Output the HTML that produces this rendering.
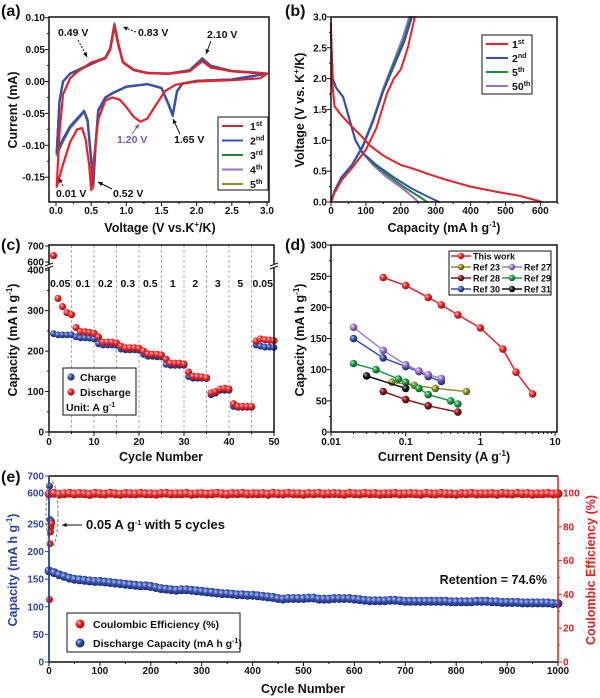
<!DOCTYPE html>
<html><head><meta charset="utf-8">
<style>
html,body{margin:0;padding:0;background:#fff;}
svg{display:block;font-family:"Liberation Sans",Arial,sans-serif;}
.tk{font-size:10px;font-weight:bold;fill:#111;}
.lab{font-size:12.5px;font-weight:bold;fill:#111;}
.pl{font-size:16px;font-weight:bold;fill:#111;}
.an{font-size:10.5px;font-weight:bold;fill:#111;}
</style></head>
<body>
<svg id="fig" width="600" height="698" viewBox="0 0 600 698">
<defs>
<radialGradient id="gRed" cx="35%" cy="35%" r="65%"><stop offset="0" stop-color="#ffc0c0"/><stop offset="0.45" stop-color="#ee2b2b"/><stop offset="1" stop-color="#a50d0d"/></radialGradient>
<radialGradient id="gBlue" cx="35%" cy="35%" r="65%"><stop offset="0" stop-color="#b8c4f0"/><stop offset="0.45" stop-color="#3550b0"/><stop offset="1" stop-color="#1a2a70"/></radialGradient>
<radialGradient id="gGreen" cx="35%" cy="35%" r="65%"><stop offset="0" stop-color="#b0f0c0"/><stop offset="0.45" stop-color="#1f9a45"/><stop offset="1" stop-color="#0c5a25"/></radialGradient>
<radialGradient id="gPurple" cx="35%" cy="35%" r="65%"><stop offset="0" stop-color="#eadcff"/><stop offset="0.45" stop-color="#a27ccc"/><stop offset="1" stop-color="#5f3d85"/></radialGradient>
<radialGradient id="gOlive" cx="35%" cy="35%" r="65%"><stop offset="0" stop-color="#efefb0"/><stop offset="0.45" stop-color="#8f8f30"/><stop offset="1" stop-color="#55551a"/></radialGradient>
<radialGradient id="gDred" cx="35%" cy="35%" r="65%"><stop offset="0" stop-color="#e09090"/><stop offset="0.45" stop-color="#8e1a1a"/><stop offset="1" stop-color="#4a0808"/></radialGradient>
<radialGradient id="gBlack" cx="35%" cy="35%" r="65%"><stop offset="0" stop-color="#aaaaaa"/><stop offset="0.45" stop-color="#222"/><stop offset="1" stop-color="#000"/></radialGradient>
</defs>

<text class="pl" x="1" y="16">(a)</text>
<text class="pl" x="285" y="16">(b)</text>
<text class="pl" x="1" y="250">(c)</text>
<text class="pl" x="285" y="250">(d)</text>
<text class="pl" x="1" y="482">(e)</text>

<text class="lab" x="160" y="232" text-anchor="middle">Voltage (V vs.K<tspan dy="-5" font-size="8">+</tspan><tspan dy="5">/K)</tspan></text>
<text class="lab" transform="translate(17,110) rotate(-90)" text-anchor="middle">Current (mA)</text>
<text class="lab" x="444" y="232" text-anchor="middle">Capacity (mA h g<tspan dy="-5" font-size="8">-1</tspan><tspan dy="5">)</tspan></text>
<text class="lab" transform="translate(304,110) rotate(-90)" text-anchor="middle">Voltage (V vs. K<tspan dy="-5" font-size="8">+</tspan><tspan dy="5">/K)</tspan></text>
<text class="lab" x="161" y="461" text-anchor="middle">Cycle Number</text>
<text class="lab" transform="translate(17,340) rotate(-90)" text-anchor="middle">Capacity (mA h g<tspan dy="-5" font-size="8">-1</tspan><tspan dy="5">)</tspan></text>
<text class="lab" x="444" y="461" text-anchor="middle">Current Density (A g<tspan dy="-5" font-size="8">-1</tspan><tspan dy="5">)</tspan></text>
<text class="lab" transform="translate(304,340) rotate(-90)" text-anchor="middle">Capacity (mA h g<tspan dy="-5" font-size="8">-1</tspan><tspan dy="5">)</tspan></text>
<text class="lab" x="303" y="693" text-anchor="middle">Cycle Number</text>
<text class="lab" transform="translate(17,570) rotate(-90)" text-anchor="middle" style="fill:#2e44a0">Capacity (mA h g<tspan dy="-5" font-size="8">-1</tspan><tspan dy="5">)</tspan></text>
<text class="lab" transform="translate(595,570) rotate(-90)" text-anchor="middle" style="fill:#e02020">Coulombic Efficiency (%)</text>

<g id="layer"></g>
</svg>
<script>
// ---------- DATA ----------
const cv1Anodic=[[0.01,-0.165],[0.05,-0.08],[0.1,-0.02],[0.2,0.005],[0.3,0.015],[0.4,0.022],[0.5,0.03],[0.6,0.033],[0.7,0.036],[0.77,0.05],[0.83,0.088],[0.88,0.06],[0.95,0.03],[1.1,0.018],[1.3,0.013],[1.6,0.012],[1.9,0.016],[2.0,0.025],[2.08,0.032],[2.2,0.022],[2.5,0.016],[2.9,0.013],[3.0,0.012]];
const cv1Cathodic=[[3.0,0.012],[2.9,0.005],[2.5,0.002],[2.0,0.0],[1.7,-0.005],[1.55,-0.015],[1.4,-0.04],[1.3,-0.058],[1.2,-0.063],[1.1,-0.055],[1.0,-0.04],[0.9,-0.028],[0.8,-0.025],[0.7,-0.03],[0.6,-0.06],[0.54,-0.12],[0.5,-0.17],[0.47,-0.13],[0.42,-0.09],[0.37,-0.073],[0.3,-0.075],[0.2,-0.095],[0.1,-0.13],[0.01,-0.165]];
const cv2Anodic=[[0.01,-0.11],[0.05,-0.03],[0.1,0.0],[0.2,0.012],[0.3,0.017],[0.4,0.022],[0.5,0.027],[0.6,0.032],[0.7,0.036],[0.77,0.05],[0.83,0.087],[0.88,0.06],[0.95,0.03],[1.1,0.018],[1.3,0.013],[1.6,0.012],[1.9,0.017],[2.0,0.027],[2.08,0.035],[2.2,0.024],[2.5,0.016],[2.9,0.013],[3.0,0.012]];
const cv2Cathodic=[[3.0,0.012],[2.5,0.003],[2.0,0.001],[1.8,-0.003],[1.72,-0.015],[1.66,-0.052],[1.6,-0.035],[1.5,-0.01],[1.3,-0.004],[1.0,-0.008],[0.8,-0.018],[0.7,-0.025],[0.6,-0.045],[0.56,-0.1],[0.53,-0.16],[0.5,-0.12],[0.45,-0.06],[0.4,-0.046],[0.3,-0.058],[0.2,-0.07],[0.1,-0.09],[0.01,-0.11]];
const cvPeakScale=[1.0,1.02,1.04,1.05];
const cvColors=['#e8202a','#3550b0','#1f8a3b','#a070c8','#8f8f30'];
const cvNames=['1st','2nd','3rd','4th','5th'];
const gcdDis1=[[0,2.9],[3,2.0],[10,1.55],[30,1.4],[60,1.22],[90,1.05],[110,0.92],[150,0.75],[200,0.6],[230,0.55],[280,0.45],[330,0.36],[400,0.25],[470,0.17],[540,0.1],[605,0]];
const gcdCha1=[[0,0],[10,0.15],[30,0.35],[60,0.55],[100,0.85],[130,1.2],[160,1.75],[180,2.0],[200,2.15],[220,2.5],[240,3.0]];
const gcdDis2=[[0,2.75],[5,2.0],[15,1.85],[35,1.7],[50,1.4],[70,1.0],[90,0.8],[130,0.6],[180,0.4],[230,0.22],[280,0.08],[310,0]];
const gcdCha2=[[0,0],[10,0.18],[30,0.4],[60,0.6],[90,0.88],[120,1.3],[150,1.8],[180,2.2],[210,2.6],[232,3.0]];
const gcdDis5=[[0,2.7],[5,2.0],[15,1.85],[35,1.7],[50,1.4],[70,1.0],[90,0.8],[125,0.6],[170,0.4],[215,0.22],[255,0.08],[275,0]];
const gcdCha5=[[0,0],[10,0.18],[30,0.4],[60,0.6],[90,0.9],[120,1.32],[150,1.82],[180,2.25],[210,2.65],[228,3.0]];
const gcdDis50=[[0,2.7],[5,2.0],[15,1.85],[35,1.7],[50,1.4],[70,1.0],[90,0.8],[120,0.6],[160,0.4],[205,0.22],[235,0.08],[250,0]];
const gcdCha50=[[0,0],[10,0.18],[30,0.4],[60,0.6],[90,0.9],[120,1.33],[150,1.85],[180,2.28],[205,2.65],[224,3.0]];
const rateCycles=[1,2,3,4,5,6,7,8,9,10,11,12,13,14,15,16,17,18,19,20,21,22,23,24,25,26,27,28,29,30,31,32,33,34,35,36,37,38,39,40,41,42,43,44,45,46,47,48,49,50];
const rateDischarge=[640,330,310,295,290,258,248,248,246,244,235,222,222,222,220,212,208,208,208,207,200,193,192,192,190,180,170,170,170,168,148,138,137,136,134,97,100,106,108,106,70,63,63,63,63,225,230,228,227,226];
const rateCharge=[243,240,240,240,240,235,233,233,232,230,218,215,215,215,214,205,203,203,203,202,192,187,187,186,186,167,165,165,165,165,137,133,133,133,132,92,96,103,103,103,63,61,61,61,61,215,212,210,210,209];
const rateLabels=['0.05','0.1','0.2','0.3','0.5','1','2','3','5','0.05'];
const cmpThisX=[0.05,0.1,0.2,0.3,0.5,1,2,3,5], cmpThisY=[248,235,216,204,188,167,133,96,61];
const cmpRef27X=[0.02,0.05,0.1,0.15,0.2,0.3], cmpRef27Y=[168,131,108,98,92,86];
const cmpRef30X=[0.02,0.05,0.1,0.15,0.2,0.3], cmpRef30Y=[150,119,105,97,89,81];
const cmpRef29X=[0.02,0.04,0.08,0.1,0.15,0.2,0.4,0.5], cmpRef29Y=[110,100,85,80,70,60,50,45];
const cmpRef31X=[0.03,0.1], cmpRef31Y=[90,70];
const cmpRef23X=[0.065,0.13,0.25,0.65], cmpRef23Y=[80,75,70,65];
const cmpRef28X=[0.05,0.1,0.2,0.5], cmpRef28Y=[65,52,42,32];
const initCycles=[1,2,3,4,5];
const initCapacity=[640,300,292,285,280];
const initCE=[37,70,77,80,82];
const longCycles=[0,10,20,30,40,50,60,70,80,90,100,110,120,130,140,150,160,170,180,190,200,210,220,230,240,250,260,270,280,290,300,310,320,330,340,350,360,370,380,390,400,410,420,430,440,450,460,470,480,490,500,510,520,530,540,550,560,570,580,590,600,610,620,630,640,650,660,670,680,690,700,710,720,730,740,750,760,770,780,790,800,810,820,830,840,850,860,870,880,890,900,910,920,930,940,950,960,970,980,990,1000];
const longCapacity=[165,162,158,155,152,150,149,148,147,146,146,145,144,143,142,141,140,139,138,138,137,135,133,132,131,130,131,131,130,129,128,127,126,125,124,124,123,122,122,121,121,120,119,118,117,115,114,115,115,115,115,116,116,114,114,114,115,115,115,115,114,113,112,111,111,111,111,112,112,111,110,110,110,110,110,110,110,110,110,109,109,109,109,109,110,110,110,109,109,108,108,108,108,107,107,107,107,107,107,106,106];
const longCE=[99.5,99.8,99.3,99.6,99.9,99.4,99.7,99.5,99.2,99.8,99.6,99.4,99.9,99.5,99.3,99.7,99.6,99.4,99.8,99.5,99.6,99.3,99.7,99.9,99.4,99.6,99.5,99.8,99.3,99.6,99.7,99.4,99.5,99.9,99.6,99.3,99.7,99.5,99.8,99.4,99.6,99.5,99.7,99.3,99.8,99.6,99.4,99.9,99.5,99.6,99.3,99.7,99.5,99.8,99.4,99.6,99.7,99.5,99.3,99.8,99.6,99.4,99.9,99.5,99.7,99.3,99.6,99.5,99.8,99.4,99.6,99.7,99.5,99.3,99.9,99.6,99.4,99.8,99.5,99.6,99.3,99.7,99.5,99.8,99.4,99.6,99.5,99.7,99.3,99.8,99.6,99.4,99.9,99.5,99.7,99.3,99.6,99.5,99.8,99.4,99.6];

// ---------- HELPERS ----------
const NS='http://www.w3.org/2000/svg';
const layer=document.getElementById('layer');
function mk(parent,tag,attrs,text){const e=document.createElementNS(NS,tag);for(const k in attrs)e.setAttribute(k,attrs[k]);if(text!==undefined)e.textContent=text;parent.appendChild(e);return e;}
function line(p,x1,y1,x2,y2,name,col,w){const e=mk(p,'line',{x1:x1,y1:y1,x2:x2,y2:y2,stroke:col||'#111','stroke-width':w||1});


return e;}
function txt(p,x,y,s,name,anchor,cls,col){const e=mk(p,'text',{x:x,y:y,'text-anchor':anchor||'middle','class':cls||'tk'},s);if(col)e.setAttribute('style','fill:'+col);


return e;}
function poly(p,pts,col,w,name){const e=mk(p,'polyline',{points:pts.map(q=>q[0].toFixed(1)+','+q[1].toFixed(1)).join(' '),fill:'none',stroke:col,'stroke-width':w,'stroke-linejoin':'round','stroke-linecap':'round'});


return e;}
function ball(p,x,y,r,grad,name){const e=mk(p,'circle',{cx:x.toFixed(1),cy:y.toFixed(1),r:r,fill:'url(#'+grad+')'});


return e;}
function frame(p,x1,y1,x2,y2,name){const e=mk(p,'rect',{x:x1,y:y1,width:x2-x1,height:y2-y1,fill:'none',stroke:'#111','stroke-width':1.5});


return e;}
function legbox(p,x1,y1,x2,y2,name){const e=mk(p,'rect',{x:x1,y:y1,width:x2-x1,height:y2-y1,fill:'#fff',stroke:'#111','stroke-width':1});


return e;}
function sup(p,x,y,base,s,name,size){const e=mk(p,'text',{x:x,y:y,'class':'an','text-anchor':'start'});if(size)e.style.fontSize=size+'px';


mk(e,'tspan',{},base);mk(e,'tspan',{dy:-4,'font-size':7},s);return e;}
function arrow(p,x1,y1,x2,y2,name,col,dash){const g=mk(p,'g',{});


mk(g,'line',{x1:x1,y1:y1,x2:x2,y2:y2,stroke:col||'#111','stroke-width':1,'stroke-dasharray':dash?'2,1.5':'none'});
const a=Math.atan2(y2-y1,x2-x1),L=5;const p1=[x2-L*Math.cos(a-0.45),y2-L*Math.sin(a-0.45)],p2=[x2-L*Math.cos(a+0.45),y2-L*Math.sin(a+0.45)];
mk(g,'polygon',{points:x2+','+y2+' '+p1.join(',')+' '+p2.join(','),fill:col||'#111'});return g;}

// ---------- PANEL A ----------
const ga=mk(layer,'g',{});


const xa=v=>56+v*70.33, ya=i=>81.5-i*638;
for(let v=0;v<=3.001;v+=0.25){const X=xa(v),maj=Math.abs(v*2-Math.round(v*2))<1e-6;line(ga,X,202,X,202+(maj?4:2),'a-x-tick');if(maj)txt(ga,X,214,v.toFixed(1),'a-x-tick-label');}
for(let k=-6;k<=4;k++){const i=k*0.025,Y=ya(i),maj=k%2===0;line(ga,49,Y,49-(maj?4:2),Y,'a-y-tick');if(maj)txt(ga,45,Y+3.5,i.toFixed(2),'a-y-tick-label','end');}
for(let c=4;c>=0;c--){const s=c===0?1:cvPeakScale[c-1];const an=c===0?cv1Anodic:cv2Anodic,ca=c===0?cv1Cathodic:cv2Cathodic;
poly(ga,an.concat(ca).map(q=>[xa(q[0]),ya(q[1]*s)]),cvColors[c],2.2,'cv-curve-'+cvNames[c]);}
frame(ga,49,17,269,202,'a-plot-frame');
legbox(ga,218,117,268,190,'a-legend');
for(let c=0;c<5;c++){const Y=126+c*14.5;line(ga,222,Y,243,Y,'a-legend-swatch-'+cvNames[c],cvColors[c],2);sup(ga,250,Y+4,cvNames[c].slice(0,1),cvNames[c].slice(1),'a-legend-label-'+cvNames[c]);}
txt(ga,58,36,'0.49 V','a-annot-0.49v','start','an');arrow(ga,78,40,87,57,'a-arrow-0.49v','#111',true);
txt(ga,138,36,'0.83 V','a-annot-0.83v','start','an');arrow(ga,136,32,123,27,'a-arrow-0.83v','#111',true);
txt(ga,207,38,'2.10 V','a-annot-2.10v','start','an');arrow(ga,211,41,206,54,'a-arrow-2.10v','#111',false);
txt(ga,117,143,'1.20 V','a-annot-1.20v','start','an','#7a5ab0');arrow(ga,132,134,139,124,'a-arrow-1.20v','#7a5ab0',false);
txt(ga,174,143,'1.65 V','a-annot-1.65v','start','an');arrow(ga,180,134,173,119,'a-arrow-1.65v','#111',false);
txt(ga,56,197,'0.01 V','a-annot-0.01v','start','an');arrow(ga,63,186,59,178,'a-arrow-0.01v','#111',true);
txt(ga,113,197,'0.52 V','a-annot-0.52v','start','an');arrow(ga,112,189,98,182,'a-arrow-0.52v','#111',false);

// ---------- PANEL B ----------
const gb=mk(layer,'g',{});


const xb=v=>331+v*0.349, yb=v=>202-v*61.7;
for(let v=0;v<=650;v+=50){const X=xb(v),maj=v%100===0;line(gb,X,202,X,202+(maj?4:2),'b-x-tick');if(maj)txt(gb,X,214,String(v),'b-x-tick-label');}
for(let v=0;v<=3.001;v+=0.25){const Y=yb(v),maj=Math.abs(v*2-Math.round(v*2))<1e-6;line(gb,331,Y,331-(maj?4:2),Y,'b-y-tick');if(maj)txt(gb,327,Y+3.5,v.toFixed(1),'b-y-tick-label','end');}
const gcdSets=[[gcdDis50,gcdCha50,'#a070c8','50th'],[gcdDis5,gcdCha5,'#1f8a3b','5th'],[gcdDis2,gcdCha2,'#3550b0','2nd'],[gcdDis1,gcdCha1,'#e8202a','1st']];
gcdSets.forEach(s=>{poly(gb,s[0].map(q=>[xb(q[0]),yb(q[1])]),s[2],2,'gcd-discharge-'+s[3]);poly(gb,s[1].map(q=>[xb(q[0]),yb(q[1])]),s[2],2,'gcd-charge-'+s[3]);});
frame(gb,331,17,557,202,'b-plot-frame');
legbox(gb,482,35,532,94,'b-legend');
[['#e8202a','1','st'],['#3550b0','2','nd'],['#1f8a3b','5','th'],['#a070c8','50','th']].forEach((s,k)=>{const Y=44+k*14;line(gb,486,Y,508,Y,'b-legend-swatch-'+s[1]+s[2],s[0],2);sup(gb,512,Y+4,s[1],s[2],'b-legend-label-'+s[1]+s[2]);});

// ---------- PANEL C ----------
const gc=mk(layer,'g',{});


const xc=v=>49+v*4.5, yc=v=>v<=400?432-v*0.4045:(v<600?270:262-(v-600)*0.16);
for(let v=5;v<50;v+=5){const e=line(gc,xc(v),245,xc(v),432,'c-rate-divider','#999',0.8);e.setAttribute('stroke-dasharray','3,2');}
for(let v=0;v<=50;v+=5){const X=xc(v),maj=v%10===0;line(gc,X,432,X,432+(maj?4:2),'c-x-tick');if(maj)txt(gc,X,445,String(v),'c-x-tick-label');}
[0,100,200,300,400].forEach(v=>{line(gc,49,yc(v),45,yc(v),'c-y-tick');txt(gc,44,yc(v)+3.5,String(v),'c-y-tick-label','end');});
[50,150,250,350].forEach(v=>line(gc,49,yc(v),47,yc(v),'c-y-minor-tick'));
[600,700].forEach(v=>{line(gc,49,yc(v),45,yc(v),'c-y-tick');txt(gc,44,yc(v)+3.5,String(v),'c-y-tick-label','end');});
rateLabels.forEach((s,k)=>txt(gc,xc(k*5+2.5),287,s,'c-rate-label-'+k,'middle','an'));
rateCycles.forEach((c,k)=>ball(gc,xc(c),yc(rateCharge[k]),3.4,'gBlue','c-charge-point'));
rateCycles.forEach((c,k)=>ball(gc,xc(c),yc(rateDischarge[k]),3.6,'gRed','c-discharge-point'));
frame(gc,49,245,274,432,'c-plot-frame');
[[49,'c-axis-break-left'],[274,'c-axis-break-right']].forEach(b=>{const r=mk(gc,'rect',{x:b[0]-4,y:264,width:8,height:4,fill:'#fff'});


line(gc,b[0]-4,266,b[0]+4,263,b[1]+'-mark');line(gc,b[0]-4,269,b[0]+4,266,b[1]+'-mark');});
legbox(gc,63,368,136,415,'c-legend');
ball(gc,71,377,3.6,'gBlue','c-legend-charge-marker');txt(gc,80,381,'Charge','c-legend-charge-label','start','an');
ball(gc,71,392,3.6,'gRed','c-legend-discharge-marker');txt(gc,80,396,'Discharge','c-legend-discharge-label','start','an');
sup(gc,66,411,'Unit:  A g','-1','c-legend-unit');

// ---------- PANEL D ----------
const gd=mk(layer,'g',{});


const xd=v=>331+(Math.log10(v)+2)*74.7, yd=v=>432-v*0.623;
[0.01,0.1,1,10].forEach(v=>{line(gd,xd(v),432,xd(v),436,'d-x-tick');txt(gd,xd(v),445,String(v),'d-x-tick-label');});
for(let d=0.01;d<5;d*=10)for(let m=2;m<=9;m++)line(gd,xd(d*m),432,xd(d*m),434,'d-x-minor-tick');
for(let v=0;v<=300;v+=25){const maj=v%50===0;line(gd,331,yd(v),331-(maj?4:2),yd(v),'d-y-tick');if(maj)txt(gd,327,yd(v)+3.5,String(v),'d-y-tick-label','end');}
const cmpSets=[[cmpRef28X,cmpRef28Y,'#8e1a1a','gDred','ref-28'],[cmpRef23X,cmpRef23Y,'#8f8f30','gOlive','ref-23'],[cmpRef29X,cmpRef29Y,'#1f9a45','gGreen','ref-29'],[cmpRef31X,cmpRef31Y,'#111','gBlack','ref-31'],[cmpRef30X,cmpRef30Y,'#3550b0','gBlue','ref-30'],[cmpRef27X,cmpRef27Y,'#a27ccc','gPurple','ref-27'],[cmpThisX,cmpThisY,'#e8202a','gRed','this-work']];
cmpSets.forEach(s=>{poly(gd,s[0].map((x,k)=>[xd(x),yd(s[1][k])]),s[2],1.5,'d-line-'+s[4]);s[0].forEach((x,k)=>ball(gd,xd(x),yd(s[1][k]),3.8,s[3],'d-point-'+s[4]));});
frame(gd,331,245,557,432,'d-plot-frame');
legbox(gd,449,251,551,295,'d-legend');
const dleg=[[0,0,'This work','#e8202a','gRed'],[0,1,'Ref 23','#8f8f30','gOlive'],[1,1,'Ref 27','#a27ccc','gPurple'],[0,2,'Ref 28','#8e1a1a','gDred'],[1,2,'Ref 29','#1f9a45','gGreen'],[0,3,'Ref 30','#3550b0','gBlue'],[1,3,'Ref 31','#111','gBlack']];
dleg.forEach(s=>{const X=451+s[0]*51,Y=256+s[1]*11;line(gd,X,Y,X+20,Y,'d-legend-swatch',s[3],1.5);ball(gd,X+10,Y,3.2,s[4],'d-legend-marker');const t=txt(gd,X+22,Y+3.5,s[2],'d-legend-label','start','an');t.style.fontSize='9px';});

// ---------- PANEL E ----------
const ge=mk(layer,'g',{});


const xe=v=>49+v*0.509;
const yeL=v=>v<=250?662-v*0.552:(v<600?524-(v-250)*0.0886:493-(v-600)*0.17);
const yeR=v=>662-v*1.69;
for(let v=0;v<=1000;v+=50){const maj=v%100===0;line(ge,xe(v),662,xe(v),662+(maj?4:2),'e-x-tick');if(maj)txt(ge,xe(v),674,String(v),'e-x-tick-label');}
[0,50,100,150,200,250,600,700].forEach(v=>{line(ge,49,yeL(v),45,yeL(v),'e-left-y-tick','#2e44a0');txt(ge,44,yeL(v)+3.5,String(v),'e-left-y-tick-label','end','tk','#2e44a0');});
for(let v=0;v<=100;v+=10){const maj=v%20===0;line(ge,558,yeR(v),558+(maj?4:2),yeR(v),'e-right-y-tick','#e02020');if(maj)txt(ge,563,yeR(v)+3.5,String(v),'e-right-y-tick-label','start','tk','#e02020');}
longCycles.forEach((c,k)=>ball(ge,xe(c),yeL(longCapacity[k]),4.5,'gBlue','e-capacity-point'));
longCycles.forEach((c,k)=>ball(ge,xe(c),yeR(longCE[k]),4.5,'gRed','e-ce-point'));
initCycles.forEach((c,k)=>ball(ge,xe(c),yeL(initCapacity[k]),3.5,'gBlue','e-initial-capacity-point'));
initCycles.forEach((c,k)=>ball(ge,xe(c),yeR(initCE[k]),3.5,'gRed','e-initial-ce-point'));
const lax=mk(ge,'path',{d:'M49,476 V662 H558',fill:'none',stroke:'#111','stroke-width':1.5});


line(ge,49,476,558,476,'e-top-frame','#111',1.5);
line(ge,49,476,49,662,'e-left-axis','#2e44a0',1.5);
line(ge,558,476,558,662,'e-right-axis','#e02020',1.5);
const el=mk(ge,'ellipse',{cx:52,cy:514,rx:6,ry:32,fill:'none',stroke:'#888','stroke-width':1.2,'stroke-dasharray':'3,2'});


arrow(ge,82,525,62,525,'e-initial-cycles-arrow','#111',false);
const t1=sup(ge,86,529,'0.05 A g','-1','e-initial-cycles-note',13);mk(t1,'tspan',{dy:4},' with 5 cycles');
const rt=txt(ge,547,584,'Retention = 74.6%','e-retention-label','end','an');rt.style.fontSize='12.5px';
legbox(ge,67,613,240,652,'e-legend');
ball(ge,80,624,4.5,'gRed','e-legend-ce-marker');txt(ge,93,628,'Coulombic Efficiency (%)','e-legend-ce-label','start','an');
ball(ge,80,643,4.5,'gBlue','e-legend-capacity-marker');sup(ge,93,647,'Discharge Capacity (mA h g','-1','e-legend-capacity-label');
mk(ge.lastChild,'tspan',{dy:4},')');
</script>
</body></html>
